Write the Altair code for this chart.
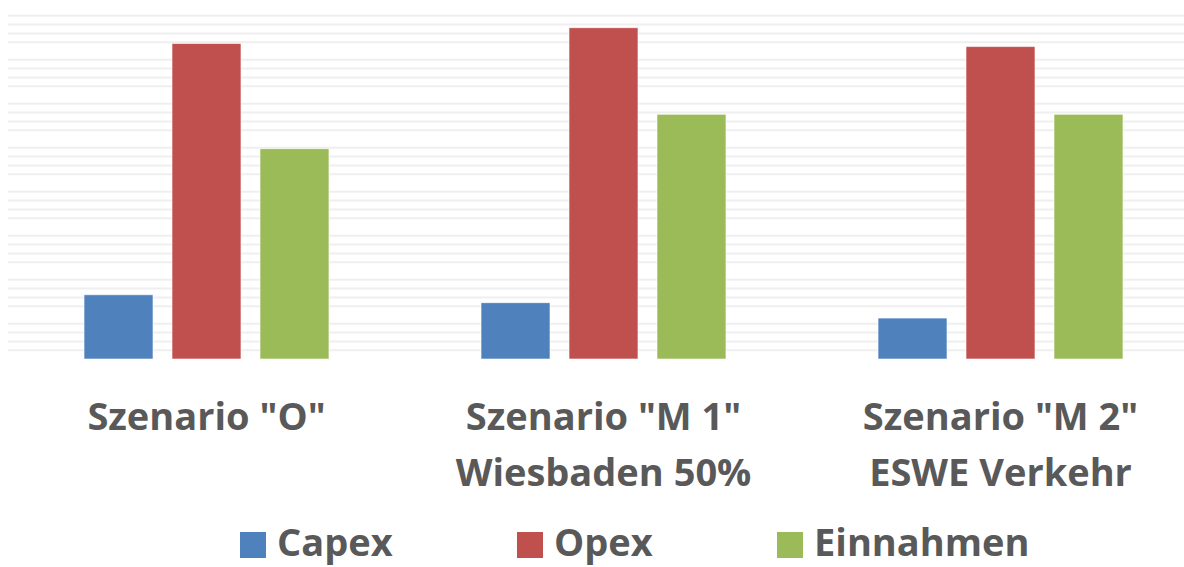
import altair as alt
import pandas as pd

scenarios = ['Szenario "O"', 'Szenario "M 1"\nWiesbaden 50%', 'Szenario "M 2"\nESWE Verkehr']
series = ["Capex", "Opex", "Einnahmen"]
colors = ["#4F81BD", "#C0504D", "#9BBB59"]
capex = [1.46, 1.28, 0.93]
opex = [7.17, 7.53, 7.10]
einnahmen = [4.78, 5.56, 5.56]

major_ticks = [0, 1, 2, 3, 4, 5, 6, 7, 8]
minor_ticks = [round(i * 0.2, 1) for i in range(41) if i % 5 != 0]

rows = []
for i, s in enumerate(scenarios):
    rows.append({"scenario": s, "series": "Capex", "value": capex[i]})
    rows.append({"scenario": s, "series": "Opex", "value": opex[i]})
    rows.append({"scenario": s, "series": "Einnahmen", "value": einnahmen[i]})
df = pd.DataFrame(rows)
grid_df = pd.DataFrame({"v": minor_ticks})

FONT = "Open Sans"
TXT = "#595959"
yscale = alt.Scale(domain=[0, 8], nice=False, zero=True)

minor = alt.Chart(grid_df).mark_rule(color="#efefef", strokeWidth=2).encode(
    y=alt.Y("v:Q", scale=yscale, axis=None)
)

bars = alt.Chart(df).mark_bar(stroke="#ffffff", strokeWidth=1, strokeOpacity=0.6).encode(
    x=alt.X(
        "scenario:N",
        sort=scenarios,
        scale=alt.Scale(range=[0, 1191], paddingInner=0, paddingOuter=0),
        axis=alt.Axis(
            title=None,
            labelAngle=0,
            labelExpr="split(datum.label, '\\n')",
            labelFont=FONT,
            labelFontSize=38,
            labelFontWeight="bold",
            labelColor=TXT,
            labelLineHeight=56,
            labelPadding=40,
            labelLimit=0,
            ticks=False,
            domain=False,
            labelBaseline="top",
        ),
    ),
    xOffset=alt.XOffset(
        "series:N", sort=series, scale=alt.Scale(paddingInner=0.216, paddingOuter=0.864)
    ),
    y=alt.Y(
        "value:Q",
        scale=yscale,
        axis=alt.Axis(
            title=None,
            labels=False,
            ticks=False,
            domain=False,
            values=major_ticks,
            grid=True,
            gridColor="#d9d9d9",
            gridWidth=2,
        ),
    ),
    color=alt.Color(
        "series:N",
        sort=series,
        scale=alt.Scale(domain=series, range=colors),
        legend=alt.Legend(
            title=None,
            orient="none",
            legendX=226,
            legendY=519,
            direction="horizontal",
            symbolType="square",
            symbolSize=676,
            symbolStrokeWidth=0,
            labelFont=FONT,
            labelFontSize=38,
            labelFontWeight="bold",
            labelColor=TXT,
            labelOffset=5,
            labelLimit=0,
            columnPadding=118,
            padding=0,
        ),
    ),
)

chart = (
    alt.layer(minor, bars)
    .properties(
        width=1176,
        height=352,
        padding={"left": 8, "top": 7, "right": 0, "bottom": 208},
        autosize=alt.AutoSizeParams(type="none"),
        background="#ffffff",
    )
    .configure_view(stroke=None)
)

chart.save("out.html", embed_options={"renderer": "svg", "actions": False})
